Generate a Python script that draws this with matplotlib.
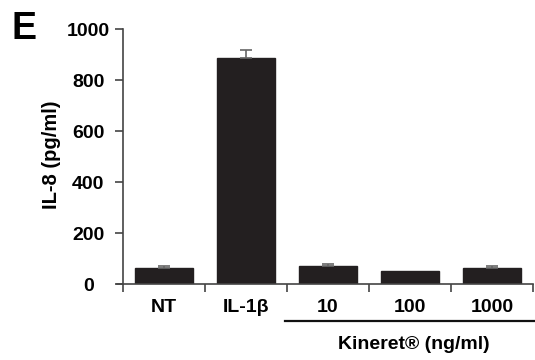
import matplotlib.pyplot as plt
import numpy as np

plt.rcParams['font.family'] = ['Liberation Sans', 'DejaVu Sans']

categories = ['NT', 'IL-1β', '10', '100', '1000']
il8_values = [66, 888, 72, 54, 64]
il8_errors = [5, 32, 9, 0, 9]
y_ticks = [0, 200, 400, 600, 800, 1000]

fig = plt.figure(figsize=(5.35, 3.6), dpi=100)
ax = fig.add_axes([0.219, 0.21, 0.777, 0.709])

x = np.arange(len(categories))
vals = np.array(il8_values)
errs = np.array(il8_errors)
ax.bar(x, vals, width=0.7, color='#231f20', edgecolor='#231f20', zorder=2)
has_err = errs > 0
ax.errorbar(x[has_err], vals[has_err], yerr=[np.zeros(has_err.sum()), errs[has_err]], fmt='none',
            ecolor='#666666', elinewidth=1.2, capsize=4, capthick=1.2, zorder=3)

# bottom spine pokes a little past the y axis, like the original
ax.set_xlim(-0.57, len(categories) - 0.5)
ax.spines['left'].set_position(('data', -0.5))
ax.set_ylim(0, 1000)
ax.set_yticks(y_ticks)
ax.set_yticklabels([str(v) for v in y_ticks], fontsize=14, fontweight='bold')
for lab in ax.get_yticklabels():
    lab.set_horizontalalignment('center')
ax.set_xticks(np.arange(len(categories) + 1) - 0.5)
ax.set_xticklabels([])
ax.set_xticks(x, minor=True)
ax.set_xticklabels(categories, minor=True, fontsize=14, fontweight='bold')
ax.tick_params(axis='x', which='minor', length=0, pad=10.5)
ax.tick_params(axis='x', which='major', length=6, width=1.2, color='#444444')
ax.tick_params(axis='y', length=6, width=1.2, color='#444444', pad=19)

for side in ['top', 'right']:
    ax.spines[side].set_visible(False)
for side in ['left', 'bottom']:
    ax.spines[side].set_color('#444444')
    ax.spines[side].set_linewidth(1.2)

fig.text(51.5 / 535, 1 - 155 / 360, 'IL-8 (pg/ml)', rotation=90, ha='center', va='center',
         fontsize=14.5, fontweight='bold')

# Kineret group bracket below the dose labels
trans = ax.get_xaxis_transform()
ax.plot([1.48, 4.6], [-0.142, -0.142], color='#111111', lw=1.6, transform=trans, clip_on=False)
ax.text(3.05, -0.255, 'Kineret® (ng/ml)', transform=trans, ha='center', va='baseline',
        fontsize=14, fontweight='bold')

fig.text(12 / 535, 1 - 39 / 360, 'E', fontsize=27, fontweight='bold', ha='left', va='baseline')

fig.savefig('out.png', dpi=100)
